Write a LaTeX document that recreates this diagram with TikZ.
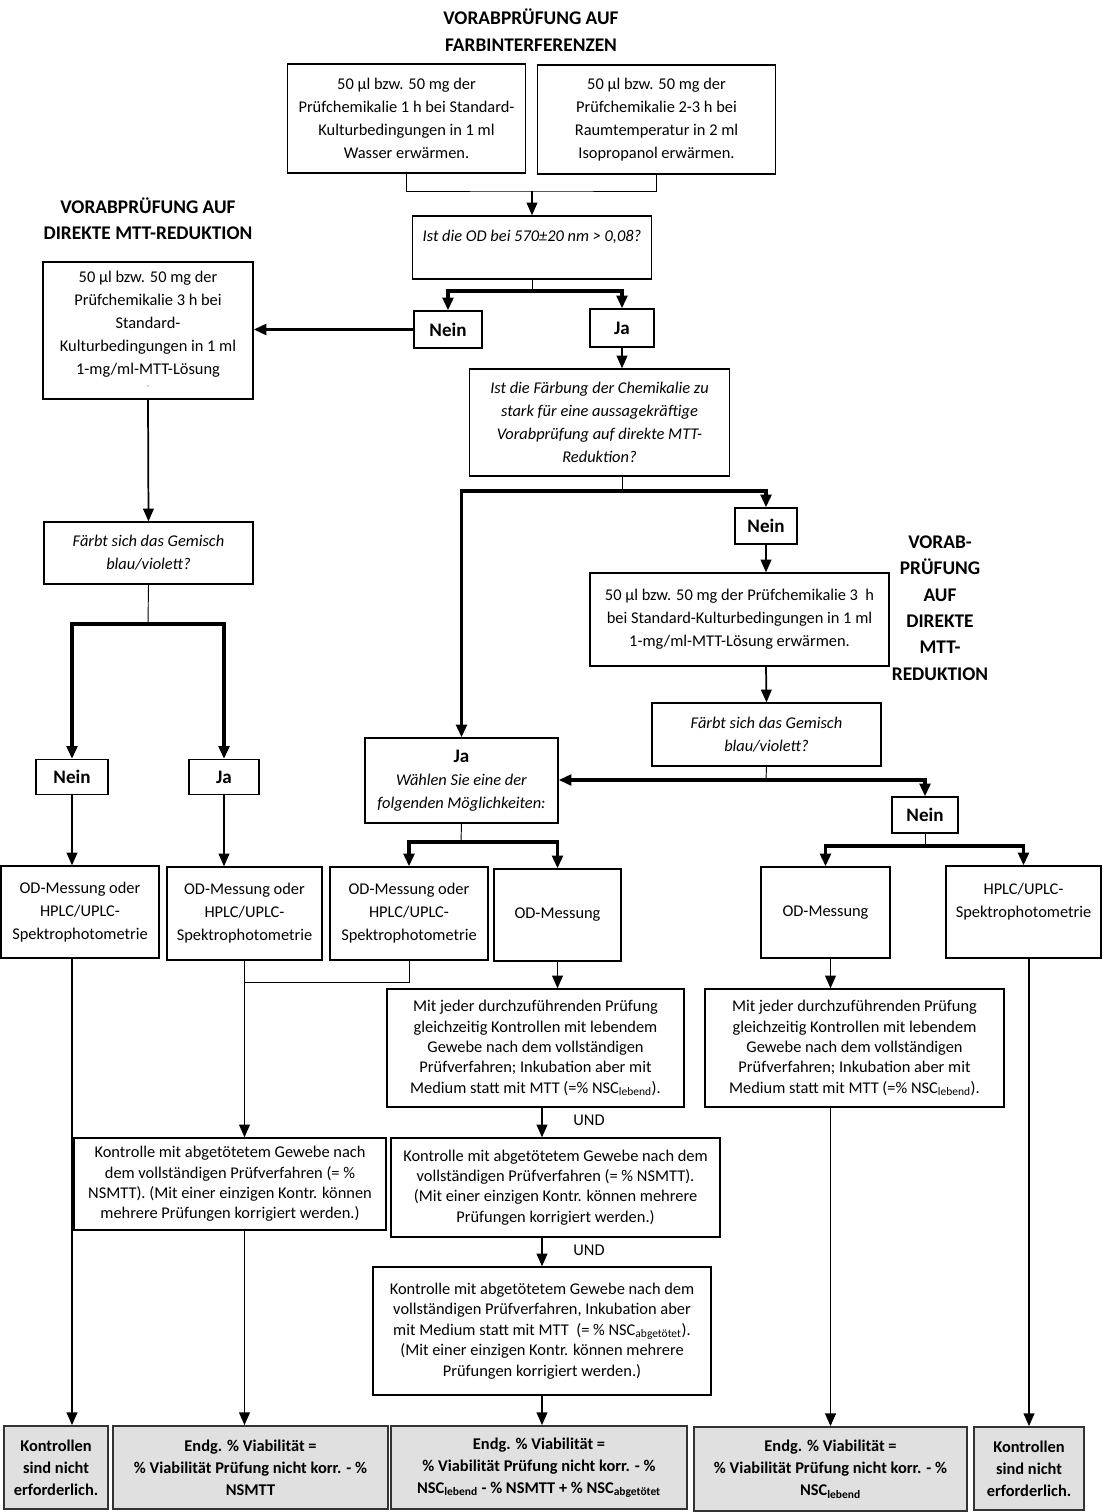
\documentclass[tikz,border=0pt]{standalone}
\usepackage{fontspec}
\setmainfont{Carlito}
\usepackage{tikz}
\usetikzlibrary{arrows.meta,positioning,calc}
\tikzset{
  sz/.style 2 args={minimum width=#1*0.75pt,minimum height=#2*0.75pt},
  box/.style={draw=black,fill=white,line width=1pt,align=center,inner sep=0pt,font=\fontsize{12.3}{17.25}\selectfont},
  boxs/.style={box,font=\fontsize{12.3}{15.3}\selectfont},
  boxq/.style={box,font=\fontsize{12.3}{17.25}\selectfont\itshape},
  boxa/.style={box,font=\fontsize{14.3}{17}\selectfont\bfseries},
  boxe/.style={draw=black!80,fill=black!12,line width=1.3pt,align=center,inner sep=0pt,font=\fontsize{12.3}{16.5}\selectfont\bfseries},
  ttl/.style={align=center,font=\fontsize{14.5}{19.8}\selectfont\bfseries},
  lbl/.style={font=\fontsize{12.3}{15}\selectfont},
  ln/.style={line width=0.7pt},
  arr/.style={-{Triangle[length=9.5pt,width=8pt]},line width=1.3pt},
  arrk/.style={-{Triangle[length=9.5pt,width=8pt]},line width=2.4pt},
}
\begin{document}
\begin{tikzpicture}[x=0.75pt,y=-0.75pt]
\useasboundingbox (0,0) rectangle (1102,1512);
% titles
\node[ttl] (t1) at (531,30) {VORABPRÜFUNG AUF\\FARBINTERFERENZEN};
\node[ttl] (t2) at (148,219) {VORABPRÜFUNG AUF\\DIREKTE MTT-REDUKTION};
\node[ttl] (t3) at (940,608) {VORAB-\\PRÜFUNG\\AUF\\DIREKTE\\MTT-\\REDUKTION};
% colour check
\node[box,sz={238}{109}] (a1) at (406.5,118.5) {50 µl bzw. 50 mg der\\Prüfchemikalie 1 h bei Standard-\\Kulturbedingungen in 1 ml\\Wasser erwärmen.};
\node[box,sz={238}{109}] (a2) at (656.5,119.5) {50 µl bzw. 50 mg der\\Prüfchemikalie 2-3 h bei\\Raumtemperatur in 2 ml\\Isopropanol erwärmen.};
\node[boxq,sz={239}{63}] (q1) at (532,247.5) {Ist die OD bei 570±20 nm > 0,08?\\~};
\node[boxa,sz={68}{37}] (nein1) at (448,329.5) {Nein};
\node[boxa,sz={64}{38}] (ja1) at (622,328) {Ja};
% direct MTT reduction, left
\node[box,sz={210}{137}] (l1) at (148,330.5) {50 µl bzw. 50 mg der\\Prüfchemikalie 3 h bei\\Standard-\\Kulturbedingungen in 1 ml\\1-mg/ml-MTT-Lösung\\[-5pt]{\tiny ¨}};
\node[boxq,sz={209}{62}] (q4) at (148.5,553) {Färbt sich das Gemisch\\blau/violett?};
\node[boxa,sz={72}{35}] (nein4) at (72,777) {Nein};
\node[boxa,sz={70}{35}] (ja4) at (224,777) {Ja};
% direct MTT reduction, right
\node[boxq,sz={260}{107}] (q2) at (599.5,422.5) {Ist die Färbung der Chemikalie zu\\stark für eine aussagekräftige\\Vorabprüfung auf direkte MTT-\\Reduktion?};
\node[boxa,sz={62}{36}] (nein2) at (766,526) {Nein};
\node[box,sz={299}{93}] (b1) at (739.5,619.5) {50 µl bzw. 50 mg der Prüfchemikalie 3~~h\\bei Standard-Kulturbedingungen in 1 ml\\1-mg/ml-MTT-Lösung erwärmen.};
\node[boxq,sz={229}{63}] (q3) at (766.5,734.5) {Färbt sich das Gemisch\\blau/violett?};
\node[box,sz={193}{85}] (jw) at (461.5,780.5) {{\fontsize{14.3}{17}\selectfont\bfseries Ja}\\\textit{Wählen Sie eine der}\\\textit{folgenden Möglichkeiten:}};
\node[boxa,sz={66}{36}] (nein3) at (925,815) {Nein};
% measurement
\node[box,sz={158}{92}] (m1) at (80,912) {OD-Messung oder\\HPLC/UPLC-\\Spektrophotometrie};
\node[box,sz={155}{93}] (m2) at (244.5,913.5) {OD-Messung oder\\HPLC/UPLC-\\Spektrophotometrie};
\node[box,sz={158}{93}] (m3) at (409,913.5) {OD-Messung oder\\HPLC/UPLC-\\Spektrophotometrie};
\node[box,sz={127}{92}] (m4) at (557.5,915) {OD-Messung};
\node[box,sz={129}{91}] (m5) at (825.5,912.5) {OD-Messung};
\node[box,sz={155}{92}] (m6) at (1023.5,912) {HPLC/UPLC-\\Spektrophotometrie\\~};
% controls
\node[boxs,sz={297}{118}] (c1) at (535.5,1048) {Mit jeder durchzuführenden Prüfung\\gleichzeitig Kontrollen mit lebendem\\Gewebe nach dem vollständigen\\Prüfverfahren; Inkubation aber mit\\Medium statt mit MTT (=\% NSC\textsubscript{lebend}).};
\node[boxs,sz={299}{118}] (c5) at (854.5,1048) {Mit jeder durchzuführenden Prüfung\\gleichzeitig Kontrollen mit lebendem\\Gewebe nach dem vollständigen\\Prüfverfahren; Inkubation aber mit\\Medium statt mit MTT (=\% NSC\textsubscript{lebend}).};
\node[boxs,sz={312}{92}] (k1) at (230,1184) {Kontrolle mit abgetötetem Gewebe nach\\dem vollständigen Prüfverfahren (= \%\\NSMTT). (Mit einer einzigen Kontr. können\\mehrere Prüfungen korrigiert werden.)};
\node[boxs,sz={329}{99}] (c2) at (555.5,1187.5) {Kontrolle mit abgetötetem Gewebe nach dem\\vollständigen Prüfverfahren (= \% NSMTT).\\(Mit einer einzigen Kontr. können mehrere\\Prüfungen korrigiert werden.)};
\node[boxs,sz={338}{128}] (c3) at (542,1331) {Kontrolle mit abgetötetem Gewebe nach dem\\vollständigen Prüfverfahren, Inkubation aber\\mit Medium statt mit MTT~~(= \% NSC\textsubscript{abgetötet}).\\(Mit einer einzigen Kontr. können mehrere\\Prüfungen korrigiert werden.)};
\node[lbl] (und1) at (589,1120) {UND};
\node[lbl] (und2) at (589,1250) {UND};
% results
\node[boxe,sz={104}{83}] (f1) at (56,1467.5) {Kontrollen\\sind nicht\\erforderlich.};
\node[boxe,sz={275}{83}] (f2) at (250.5,1467.5) {Endg. \% Viabilität =\\\% Viabilität Prüfung nicht korr. - \%\\NSMTT};
\node[boxe,sz={296}{83}] (f3) at (539,1467.5) {Endg. \% Viabilität =\\\% Viabilität Prüfung nicht korr. - \%\\NSC\textsubscript{lebend} - \% NSMTT + \% NSC\textsubscript{abgetötet}};
\node[boxe,sz={273}{84}] (f4) at (830.5,1469) {Endg. \% Viabilität =\\\% Viabilität Prüfung nicht korr. - \%\\NSC\textsubscript{lebend}};
\node[boxe,sz={110}{83}] (f5) at (1029,1468.5) {Kontrollen\\sind nicht\\erforderlich.};
% joints
\coordinate (j1) at (532,191);
\coordinate (j2) at (532,291);
\coordinate (j3) at (622,491);
\coordinate (j4) at (766,780);
\coordinate (j5) at (925,846);
\coordinate (j6) at (461,842);
\coordinate (j7) at (148,624);
\coordinate (j8) at (244.5,982);
% connectors
\draw[ln](a1.south) |- (j1) -| (a2.south);\draw[arr](j1)--(q1.north);
\draw[ln](q1.south)--(j2);\draw[arrk](j2) -| (nein1.north);\draw[arrk](j2) -| (ja1.north);
\draw[arrk](nein1.west)--(nein1.west -| l1.east);
\draw[arr](ja1.south)--(ja1.south |- q2.north);
\draw[ln](ja1.south |- q2.south)--(j3);\draw[arrk](j3) -| (nein2.north);\draw[arrk](j3) -| (jw.north);
\draw[arr](nein2.south)--(nein2.south |- b1.north);
\draw[arr](nein2.south |- b1.south)--(q3.north);
\draw[ln](q3.south)--(j4);\draw[arrk](j4)--(jw.east |- j4);\draw[arrk](j4) -| (nein3.north);
\draw[ln](nein3.south)--(j5);\draw[arrk](j5) -| (m5.north);\draw[arrk](j5) -| (m6.north);
\draw[ln](jw.south)--(j6);\draw[arrk](j6) -| (m3.north);\draw[arrk](j6) -| (m4.north);
\draw[arr](l1.south)--(q4.north);
\draw[ln](q4.south)--(j7);\draw[arrk](j7) -| (nein4.north);\draw[arrk](j7) -| (ja4.north);
\draw[arr](nein4.south)--(nein4.south |- m1.north);
\draw[arr](ja4.south)--(ja4.south |- m2.north);
\draw[ln](m2.south) |- (m3.south |- j8)--(m3.south);
\draw[arr](j8)--(j8 |- k1.north);\draw[arr](j8 |- k1.south)--(j8 |- f2.north);
\draw[arr](m4.south)--(m4.south |- c1.north);
\draw[arr](c1.south -| c3.north)--(c2.north -| c3.north);
\draw[arr](c2.south -| c3.north)--(c3.north);
\draw[arr](c3.south)--(c3.south |- f3.north);
\draw[arr](m5.south -| f4.north)--(c5.north -| f4.north);\draw[arr](c5.south -| f4.north)--(f4.north);
\draw[arr](m6.south -| f5.north)--(f5.north);
\draw[arr](nein4.south |- m1.south)--(nein4.south |- f1.north);
\end{tikzpicture}
\end{document}
